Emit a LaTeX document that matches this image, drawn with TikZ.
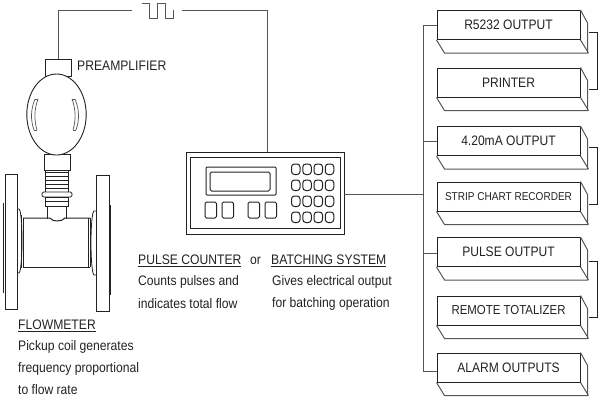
\documentclass[tikz,border=0pt]{standalone}
\usepackage{fontspec}
\setmainfont[FakeStretch=0.88]{Liberation Sans}
\usetikzlibrary{calc}
\definecolor{wire}{HTML}{555555}
\definecolor{ink}{HTML}{222222}
\tikzset{
  /tikz/.cd,
  outbox/.style={draw=ink,line width=1pt,minimum width=143pt,minimum height=29pt,inner sep=0pt,font=\fontsize{13.7}{16}\selectfont,text=ink},
  caption/.style={anchor=west,inner sep=0pt,font=\fontsize{13.8}{16}\selectfont,text=ink},
  wireline/.style={draw=wire,line width=1pt},
  part/.style={draw=ink,line width=.9pt,fill=white},
  softkey/.style={draw=ink,line width=1pt,rounded corners=1.5pt}
}
\begin{document}
\begin{tikzpicture}[x=1pt,y=-1pt]
  \useasboundingbox (0,0) rectangle (600,400);

  \node[outbox] (rs) at (508.5,25) {R5232 OUTPUT};
  \node[outbox] (printer) at (508.5,82.5) {PRINTER};
  \node[outbox] (ma) at (508.5,141) {4.20mA OUTPUT};
  \node[outbox,font=\fontsize{11.4}{13}\selectfont] (chart) at (508.5,196.5) {STRIP CHART RECORDER};
  \node[outbox] (pulse) at (508.5,252) {PULSE OUTPUT};
  \node[outbox,font=\fontsize{13}{15}\selectfont] (totalizer) at (508.5,310.5) {REMOTE TOTALIZER};
  \node[outbox] (alarm) at (508.5,367.5) {ALARM OUTPUTS};
  \foreach \b in {rs,printer,ma,chart,pulse,totalizer,alarm}
    \draw[wireline] (\b.south west) -- ++(8,13) -- ++(143,0) -- ++(0,-30) -- (\b.north east)
      (\b.south east) -- ++(8,13);

  \node[part,minimum width=158pt,minimum height=82pt,inner sep=0pt] (counter) at (265,193) {};
  \node[part,minimum width=150pt,minimum height=71pt,inner sep=0pt] (face) at (265,192.5) {};
  \draw[softkey,rounded corners=1pt] (206,167) rectangle (276,195);
  \draw[softkey] (210,172) rectangle (270,191);
  \foreach \x in {205,222,248,265}
    \draw[softkey] (\x,202) rectangle ++(11.5,16);
  \foreach \x in {291.5,302.8,314,325.3}
    \foreach \y in {164,180,196,212}
      \draw[softkey,rounded corners=3pt] (\x,\y) rectangle ++(8.5,10.5);

  \coordinate (waveL) at (132,10);
  \coordinate (waveR) at (182,10);
  \draw[wireline] (142,3) -- (149,3) -- (149,18) -- (157,18) -- (157,3) -- (165,3) -- (165,18) -- (173,18) -- (173,10);

  \node[part,minimum width=26pt,minimum height=17pt,inner sep=0pt] (preamp) at (58,67.5) {};
  \node[part,minimum width=26pt,minimum height=16pt,inner sep=0pt] (neck) at (57,162.5) {};
  \draw[part] (56.5,114.5) ellipse (29.7 and 40.5);
  \node[caption] (preamptext) at (77,66) {PREAMPLIFIER};

  \draw[wire,line width=.7pt] (35,99) .. controls (30.5,110) and (30.5,120) .. (34,130);
  \draw[wire,line width=.7pt] (38,99) .. controls (34,110) and (34,120) .. (37,130);
  \draw[wire,line width=.7pt] (75,99) .. controls (79.5,110) and (79.5,120) .. (76,130);
  \draw[wire,line width=.7pt] (72,99) .. controls (76,110) and (76,120) .. (73,130);
  \draw[wire,line width=.7pt] (35,99) -- (38,99) (34,130) -- (37,130) (72,99) -- (75,99) (73,130) -- (76,130);

  \foreach \y in {172,176,180,184,188}
    \draw[ink,line width=.8pt] (45,\y) -- (68,\y);
  \draw[ink,line width=.8pt] (45,170) -- (45,192) (68,170) -- (68,192);
  \draw[part,rounded corners=1.5pt] (42,192) rectangle (72,197);
  \draw[part] (45,197) rectangle (68,206);
  \draw[ink,line width=.8pt] (45,201) -- (68,201);
  \draw[ink,line width=.8pt] (47,206) -- (47,219) (66,206) -- (66,219);

  \draw[ink,line width=1pt] (23,218) -- (50,218) .. controls (52,222) and (62,222) .. (65,218) -- (90,218);
  \draw[ink,line width=1pt] (23,267) -- (90,267);
  \draw[ink,line width=.8pt] (17,209) -- (19,209) .. controls (23,211) and (23,270) .. (19,273) -- (17,273);
  \draw[ink,line width=.8pt] (96,211) -- (94,211) .. controls (90,213) and (90,272) .. (94,275) -- (96,275);
  \draw[ink,line width=.8pt] (21,215) -- (21,268) (88,218) -- (88,268) (23,218) -- (23,267) (90,218) -- (90,267);
  \draw[part] (5,174) rectangle (17,309);
  \draw[part] (96,175) rectangle (109,311);
  \draw[ink,line width=.7pt] (3.5,203) -- (3.5,293) (110,205) -- (110,295);

  \draw[wireline] (preamp.north) |- (waveL);
  \draw[wireline] (waveR) -| ($(counter.north)+(2,0)$);
  \coordinate (trunk) at (423,194);
  \draw[wireline] (counter.east |- trunk) -- (trunk);
  \draw[wireline] (rs.west) -| (423,371) -- (alarm.west |- 423,371);
  \draw[wireline] (ma.west) -- (423,141);
  \draw[wireline] (pulse.west |- 423,253) -- (423,253);
  \draw[wireline,draw=ink] ($(rs.east)+(8,7)$) -- ++(9,0) |- ($(printer.east)+(8,7)$);
  \draw[wireline,draw=ink] ($(ma.east)+(8,6)$) -- ++(9,0) |- ($(chart.east)+(8,8)$);
  \draw[wireline,draw=ink] ($(pulse.east)+(8,9)$) -- ++(9,0) |- ($(totalizer.east)+(8,7)$);

  \node[caption] (flowhead) at (18,326) {\underline{FLOWMETER}};
  \node[caption] (flow1) at (18,347) {Pickup coil generates};
  \node[caption] (flow2) at (18,369) {frequency proportional};
  \node[caption] (flow3) at (18,390) {to flow rate};

  \node[caption] (counthead) at (138,261) {\underline{PULSE COUNTER}};
  \node[caption] (count1) at (138,282) {Counts pulses and};
  \node[caption] (count2) at (138,304) {indicates total flow};
  \node[caption] (ortext) at (250,261) {or};
  \node[caption] (batchhead) at (271,261) {\underline{BATCHING SYSTEM}};
  \node[caption] (batch1) at (272,282) {Gives electrical output};
  \node[caption] (batch2) at (272,304) {for batching operation};
\end{tikzpicture}
\end{document}
